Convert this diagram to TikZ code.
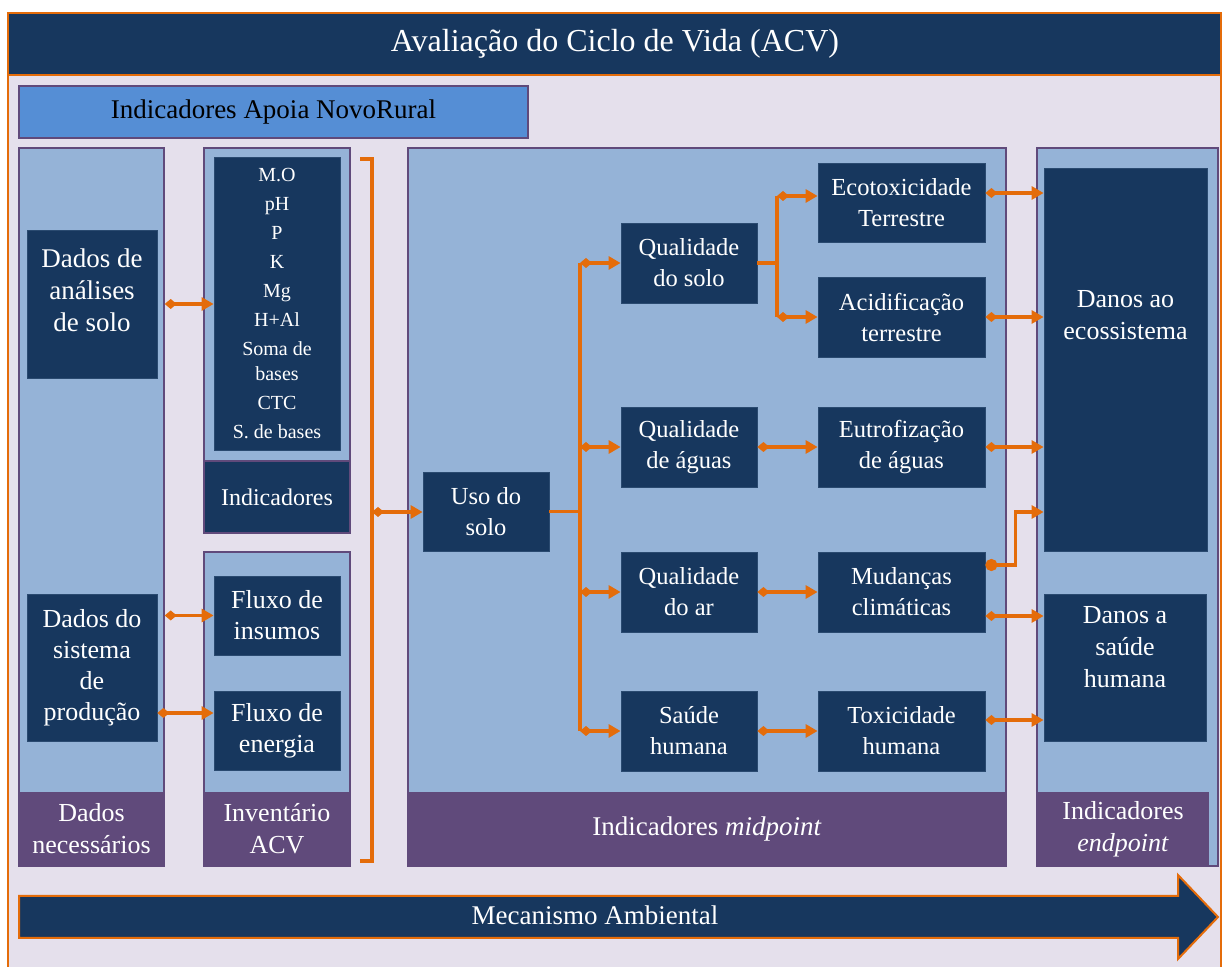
\documentclass[tikz,border=0pt]{standalone}
\usepackage{fontspec}
\setmainfont{Liberation Serif}
\usetikzlibrary{arrows.meta}
\definecolor{navy}{HTML}{17375E}
\definecolor{paleblue}{HTML}{95B3D7}
\definecolor{midblue}{HTML}{558ED5}
\definecolor{plum}{HTML}{604A7B}
\definecolor{lavender}{HTML}{E5E0EC}
\definecolor{tangerine}{HTML}{E46C0A}

\begin{document}
\begin{tikzpicture}[x=0.5pt,y=-0.5pt,
        panel/.style={draw=plum, line width=0.7pt, fill=paleblue, inner sep=0pt},
        band/.style={fill=plum, text=white, inner sep=0pt, align=center, font=\fontsize{13}{16}\selectfont},
        navybox/.style={fill=navy, draw=navy!85!paleblue, line width=0.4pt, text=white, inner sep=0pt, align=center, font=\fontsize{13}{15.5}\selectfont},
        midbox/.style={navybox, font=\fontsize{12.25}{15.5}\selectfont},
        boxtext/.style={text=white, inner sep=0pt, align=center, font=\fontsize{13}{16}\selectfont},
        orangeline/.style={draw=tangerine, line width=1.6pt},
        flow/.style={orangeline, {Diamond[length=6pt,width=5pt]}-{Triangle[length=6pt,width=6.5pt]}}]
        \useasboundingbox (0,0) rectangle (1222,967);
        \fill[white] (0,0) rectangle (1222,967);

        % Frame and title
        \draw[tangerine, line width=1pt, fill=lavender] (8,13) rectangle (1221,990);
        \draw[tangerine, line width=1pt, fill=navy] (8,13) rectangle (1221,75);
        \node[text=white, font=\fontsize{16}{19}\selectfont] (title) at (615,44) {Avaliação do Ciclo de Vida (ACV)};

        \node[draw=plum, fill=midblue, line width=0.7pt, minimum width=254.5pt, minimum height=26pt, inner sep=0pt,
              font=\fontsize{13.5}{16}\selectfont] (apoia) at (273.5,112) {Indicadores Apoia NovoRural};

        % Columns
        \node[panel, minimum width=72.5pt, minimum height=359pt] (col1) at (91.5,507) {};
        \node[panel, minimum width=73pt, minimum height=192.5pt] (col2a) at (277,340.5) {};
        \node[panel, minimum width=73pt, minimum height=157pt] (col2b) at (277,709) {};
        \node[panel, minimum width=299pt, minimum height=359pt] (col3) at (707,507) {};
        \node[panel, minimum width=90.5pt, minimum height=359pt] (col4) at (1127.5,507) {};

        \node[band, minimum width=72.5pt, minimum height=37pt] (band1) at (91.5,829) {Dados\\necessários};
        \node[band, minimum width=73pt, minimum height=37pt] (band2) at (277,829) {Inventário\\ACV};
        \node[band, minimum width=299pt, minimum height=37pt, font=\fontsize{13.5}{16}\selectfont] (band3) at (707,829) {Indicadores \textit{midpoint}};
        \node[band, minimum width=86pt, minimum height=37pt] (band4) at (1123,829) {Indicadores\\\textit{endpoint}};

        % Dados necessarios
        \node[navybox, minimum width=65pt, minimum height=74pt] (dsolo) at (92,304) {};
        \node[boxtext, font=\fontsize{13.5}{16}\selectfont] (dsolo-t) at ([yshift=7pt]dsolo.center) {Dados de\\análises\\de solo};
        \node[navybox, minimum width=65pt, minimum height=73.5pt] (dsis) at (92,667.5) {Dados do\\sistema\\de\\produção};

        % Indicadores e inventario
        \node[navybox, minimum width=63pt, minimum height=146.5pt, font=\fontsize{10}{12.5}\selectfont] (lst) at (277,303.5)
            {M.O\\[2pt]pH\\[2pt]P\\[2pt]K\\[2pt]Mg\\[2pt]H+Al\\[2pt]Soma de\\bases\\[2pt]CTC\\[2pt]S. de bases};
        \node[navybox, draw=plum, line width=0.7pt, minimum width=73pt, minimum height=36pt, font=\fontsize{12}{15}\selectfont] (ind) at (277,497) {Indicadores};
        \node[navybox, minimum width=63pt, minimum height=39.5pt] (fins) at (277,615.5) {Fluxo de\\insumos};
        \node[navybox, minimum width=63pt, minimum height=39.5pt] (fen) at (277,730.5) {Fluxo de\\energia};

        % Midpoint
        \node[midbox, minimum width=63pt, minimum height=39.5pt] (uso) at (486,511.5) {Uso do\\solo};
        \node[midbox, minimum width=68pt, minimum height=40pt] (qsolo) at (689,263) {Qualidade\\do solo};
        \node[midbox, minimum width=68pt, minimum height=40pt] (qagua) at (689,447) {Qualidade\\de águas};
        \node[midbox, minimum width=68pt, minimum height=40pt] (qar) at (689,592) {Qualidade\\do ar};
        \node[midbox, minimum width=68pt, minimum height=40pt] (saude) at (689,731) {Saúde\\humana};
        \node[midbox, minimum width=83.5pt, minimum height=39.5pt] (ecotox) at (901.5,202.5) {Ecotoxicidade\\Terrestre};
        \node[midbox, minimum width=83.5pt, minimum height=40pt] (acid) at (901.5,317) {Acidificação\\terrestre};
        \node[midbox, minimum width=83.5pt, minimum height=40pt] (eutro) at (901.5,447) {Eutrofização\\de águas};
        \node[midbox, minimum width=83.5pt, minimum height=40pt] (mud) at (901.5,592) {Mudanças\\climáticas};
        \node[midbox, minimum width=83.5pt, minimum height=40pt] (toxic) at (901.5,731) {Toxicidade\\humana};

        % Endpoint
        \node[navybox, minimum width=81.5pt, minimum height=191.5pt] (dneco) at (1125.5,359.5) {};
        \node[boxtext] (dneco-t) at ([yshift=22pt]dneco.center) {Danos ao\\ecossistema};
        \node[navybox, minimum width=81pt, minimum height=73.5pt] (dsau) at (1125,667.5) {};
        \node[boxtext] (dsau-t) at ([yshift=10pt]dsau.center) {Danos a\\saúde\\humana};

        % Connectors
        \draw[flow] (col1.east |- dsolo) -- (lst.west |- dsolo);
        \draw[flow] (col1.east |- fins) -- (fins.west);
        \coordinate (fen-in) at ([yshift=8.75pt]fen.west);
        \draw[flow] (fen-in -| dsis.east) -- (fen-in);

        \draw[orangeline] (360,159) -- (372,159) -- (372,861) -- (360,861);
        \coordinate (brace) at (372,512);
        \draw[flow] (brace) -- (brace -| uso.west);

        \coordinate (trunk) at (580,514);
        \draw[orangeline] (uso.east) -- (uso.east -| trunk);
        \draw[orangeline] (trunk |- qsolo) -- (trunk |- saude);
        \foreach \b in {qsolo,qagua,qar,saude}
            \draw[flow] (trunk |- \b) -- (\b.west);

        \coordinate (split) at (777,263);
        \coordinate (eco-in) at ([yshift=3.25pt]ecotox.west);
        \draw[orangeline] (qsolo.east) -- (split);
        \draw[orangeline] (eco-in -| split) -- (split |- acid);
        \draw[flow] (eco-in -| split) -- (eco-in);
        \draw[flow] (split |- acid) -- (acid.west);

        \draw[flow] (qagua.east) -- (eutro.west);
        \draw[flow] (qar.east) -- (mud.west);
        \draw[flow] (saude.east) -- (toxic.west);

        \coordinate (eco-out) at ([yshift=4.75pt]ecotox.east);
        \draw[flow] (eco-out) -- (eco-out -| dneco.west);
        \draw[flow] (acid.east) -- (acid.east -| dneco.west);
        \draw[flow] (eutro.east) -- (eutro.east -| dneco.west);
        \coordinate (mud-up) at ([yshift=13.5pt]mud.east);
        \draw[orangeline, {Circle[length=6pt]}-{Triangle[length=6pt,width=6.5pt]}] (mud-up) -- ++(30,0) |- ([yshift=-76.25pt]dneco.west);
        \coordinate (mud-out) at ([yshift=-12pt]mud.east);
        \draw[flow] (mud-out) -- (mud-out -| dsau.west);
        \coordinate (tox-out) at ([yshift=5.5pt]toxic.east);
        \draw[flow] (tox-out) -- (tox-out -| dsau.west);

        % Mecanismo ambiental
        \draw[tangerine, line width=1pt, fill=navy] (19,896) -- (1178,896) -- (1178,875) -- (1218,917)
            -- (1178,959) -- (1178,938) -- (19,938) -- cycle;
        \node[text=white, font=\fontsize{13.5}{16}\selectfont] (mec) at (595,915) {Mecanismo Ambiental};
    \end{tikzpicture}
\end{document}
